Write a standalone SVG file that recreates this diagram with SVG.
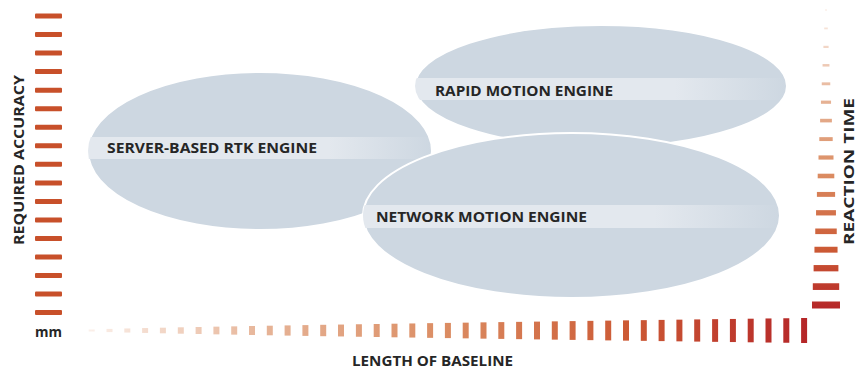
<svg xmlns="http://www.w3.org/2000/svg" width="859" height="369" viewBox="0 0 859 369">
<style>
.ell{fill:#cdd7e1;stroke:#ffffff;stroke-width:2}
.lbl{font-family:"Open Sans","Liberation Sans",sans-serif;font-weight:700;font-size:14px;fill:#262626}
.ax{font-family:"Open Sans","Liberation Sans",sans-serif;font-weight:700;font-size:14px;fill:#262626}
.lb rect{fill:#c8502a}
.bb rect{fill:url(#gb)}
.rb rect{fill:url(#gr)}
</style>
<defs>
<linearGradient id="band" x1="0" y1="0" x2="1" y2="0">
<stop offset="0" stop-color="#e3e8ee"/>
<stop offset="0.7" stop-color="#e3e8ee"/>
<stop offset="1" stop-color="#e3e8ee" stop-opacity="0"/>
</linearGradient>
<linearGradient id="gb" gradientUnits="userSpaceOnUse" x1="88" y1="0" x2="807" y2="0">
<stop offset="0" stop-color="#fbf0ea"/>
<stop offset="0.25" stop-color="#e6b396"/>
<stop offset="0.5" stop-color="#db8c62"/>
<stop offset="0.75" stop-color="#cc5a35"/>
<stop offset="1" stop-color="#b52628"/>
</linearGradient>
<linearGradient id="gr" gradientUnits="userSpaceOnUse" x1="0" y1="8" x2="0" y2="310">
<stop offset="0" stop-color="#fbf0ea"/>
<stop offset="0.3" stop-color="#e6b396"/>
<stop offset="0.55" stop-color="#db8c62"/>
<stop offset="0.8" stop-color="#cc5a35"/>
<stop offset="1" stop-color="#b52628"/>
</linearGradient>
<clipPath id="c1"><ellipse cx="260" cy="151" rx="172" ry="79"/></clipPath>
<clipPath id="c2"><ellipse cx="601" cy="86" rx="186" ry="61"/></clipPath>
<clipPath id="c3"><ellipse cx="571.5" cy="215.5" rx="208.5" ry="82.5"/></clipPath>
</defs>
<rect width="859" height="369" fill="#ffffff"/>

<g id="axis-left" class="lb">
<rect x="35" y="13.5" width="27" height="5" rx="1"/>
<rect x="35" y="32.0" width="27" height="5" rx="1"/>
<rect x="35" y="50.6" width="27" height="5" rx="1"/>
<rect x="35" y="69.1" width="27" height="5" rx="1"/>
<rect x="35" y="87.7" width="27" height="5" rx="1"/>
<rect x="35" y="106.2" width="27" height="5" rx="1"/>
<rect x="35" y="124.7" width="27" height="5" rx="1"/>
<rect x="35" y="143.3" width="27" height="5" rx="1"/>
<rect x="35" y="161.8" width="27" height="5" rx="1"/>
<rect x="35" y="180.4" width="27" height="5" rx="1"/>
<rect x="35" y="198.9" width="27" height="5" rx="1"/>
<rect x="35" y="217.4" width="27" height="5" rx="1"/>
<rect x="35" y="236.0" width="27" height="5" rx="1"/>
<rect x="35" y="254.5" width="27" height="5" rx="1"/>
<rect x="35" y="273.1" width="27" height="5" rx="1"/>
<rect x="35" y="291.6" width="27" height="5" rx="1"/>
<rect x="35" y="310.1" width="27" height="5" rx="1"/>
</g>

<g id="axis-bottom" class="bb">
<rect x="88.7" y="329.5" width="6" height="2"/>
<rect x="106.5" y="328.9" width="6" height="3.2"/>
<rect x="124.3" y="328.45" width="6" height="4.1"/>
<rect x="142.1" y="328.05" width="6" height="4.9"/>
<rect x="159.9" y="327.7" width="6" height="5.6"/>
<rect x="177.8" y="327.3" width="6" height="6.4"/>
<rect x="195.6" y="327" width="6" height="7"/>
<rect x="213.4" y="326.65" width="6" height="7.7"/>
<rect x="231.2" y="326.35" width="6" height="8.3"/>
<rect x="249.0" y="326" width="6" height="9"/>
<rect x="266.8" y="325.7" width="6" height="9.6"/>
<rect x="284.6" y="325.4" width="6" height="10.2"/>
<rect x="302.4" y="325.1" width="6" height="10.8"/>
<rect x="320.2" y="324.8" width="6" height="11.4"/>
<rect x="338.0" y="324.55" width="6" height="11.9"/>
<rect x="355.9" y="324.25" width="6" height="12.5"/>
<rect x="373.7" y="324" width="6" height="13"/>
<rect x="391.5" y="323.7" width="6" height="13.6"/>
<rect x="409.3" y="323.45" width="6" height="14.1"/>
<rect x="427.1" y="323.15" width="6" height="14.7"/>
<rect x="444.9" y="322.9" width="6" height="15.2"/>
<rect x="462.7" y="322.65" width="6" height="15.7"/>
<rect x="480.5" y="322.35" width="6" height="16.3"/>
<rect x="498.3" y="322.1" width="6" height="16.8"/>
<rect x="516.1" y="321.85" width="6" height="17.3"/>
<rect x="534.0" y="321.6" width="6" height="17.8"/>
<rect x="551.8" y="321.35" width="6" height="18.3"/>
<rect x="569.6" y="321.1" width="6" height="18.8"/>
<rect x="587.4" y="320.85" width="6" height="19.3"/>
<rect x="605.2" y="320.6" width="6" height="19.8"/>
<rect x="623.0" y="320.35" width="6" height="20.3"/>
<rect x="640.8" y="320.15" width="6" height="20.7"/>
<rect x="658.6" y="319.9" width="6" height="21.2"/>
<rect x="676.4" y="319.65" width="6" height="21.7"/>
<rect x="694.2" y="319.4" width="6" height="22.2"/>
<rect x="712.1" y="319.15" width="6" height="22.7"/>
<rect x="729.9" y="318.95" width="6" height="23.1"/>
<rect x="747.7" y="318.7" width="6" height="23.6"/>
<rect x="765.5" y="318.45" width="6" height="24.1"/>
<rect x="783.3" y="318.25" width="6" height="24.5"/>
<rect x="801.1" y="318" width="6" height="25"/>
</g>

<g id="axis-right" class="rb">
<rect x="825" y="9.25" width="2" height="1.5"/>
<rect x="824.2" y="27.5" width="3.6" height="1.8"/>
<rect x="823.4" y="45.8" width="5.2" height="2.2"/>
<rect x="822.55" y="64.05" width="6.9" height="2.5"/>
<rect x="821.75" y="82.35" width="8.5" height="2.9"/>
<rect x="820.95" y="100.6" width="10.1" height="3.2"/>
<rect x="820.1" y="118.8" width="11.8" height="3.6"/>
<rect x="819.3" y="137.15" width="13.4" height="3.9"/>
<rect x="818.5" y="155.4" width="15" height="4.2"/>
<rect x="817.7" y="173.7" width="16.6" height="4.6"/>
<rect x="816.9" y="191.95" width="18.2" height="4.9"/>
<rect x="816.05" y="210.15" width="19.9" height="5.3"/>
<rect x="815.25" y="228.5" width="21.5" height="5.6"/>
<rect x="814.45" y="246.75" width="23.1" height="5.9"/>
<rect x="813.6" y="265.05" width="24.8" height="6.3"/>
<rect x="812.8" y="283.25" width="26.4" height="6.7"/>
<rect x="812" y="301.5" width="28" height="7"/>
</g>

<g id="axis-labels">
<text class="ax" transform="translate(24,245) rotate(-90)" textLength="170" lengthAdjust="spacingAndGlyphs">REQUIRED ACCURACY</text>
<text class="ax" transform="translate(854,245) rotate(-90)" font-size="13" textLength="147" lengthAdjust="spacingAndGlyphs">REACTION TIME</text>
<text class="ax" x="352" y="366" textLength="161" lengthAdjust="spacingAndGlyphs">LENGTH OF BASELINE</text>
<text class="ax" x="35" y="337" font-size="13" textLength="27" lengthAdjust="spacingAndGlyphs">mm</text>
</g>

<g id="server-rtk">
<ellipse class="ell" cx="260" cy="151" rx="172" ry="79"/>
<rect x="88" y="137" width="344" height="22" fill="url(#band)" clip-path="url(#c1)"/>
<text class="lbl" x="107" y="153" textLength="210" lengthAdjust="spacingAndGlyphs">SERVER-BASED RTK ENGINE</text>
</g>

<g id="rapid-motion">
<ellipse class="ell" cx="601" cy="86" rx="186" ry="61"/>
<rect x="415" y="78" width="372" height="22" fill="url(#band)" clip-path="url(#c2)"/>
<text class="lbl" x="435" y="96" textLength="178" lengthAdjust="spacingAndGlyphs">RAPID MOTION ENGINE</text>
</g>

<g id="network-motion">
<ellipse class="ell" cx="571.5" cy="215.5" rx="208.5" ry="82.5"/>
<rect x="363" y="205" width="417" height="23" fill="url(#band)" clip-path="url(#c3)"/>
<text class="lbl" x="376" y="222" textLength="211" lengthAdjust="spacingAndGlyphs">NETWORK MOTION ENGINE</text>
</g>

<g id="connectors"></g>
</svg>
